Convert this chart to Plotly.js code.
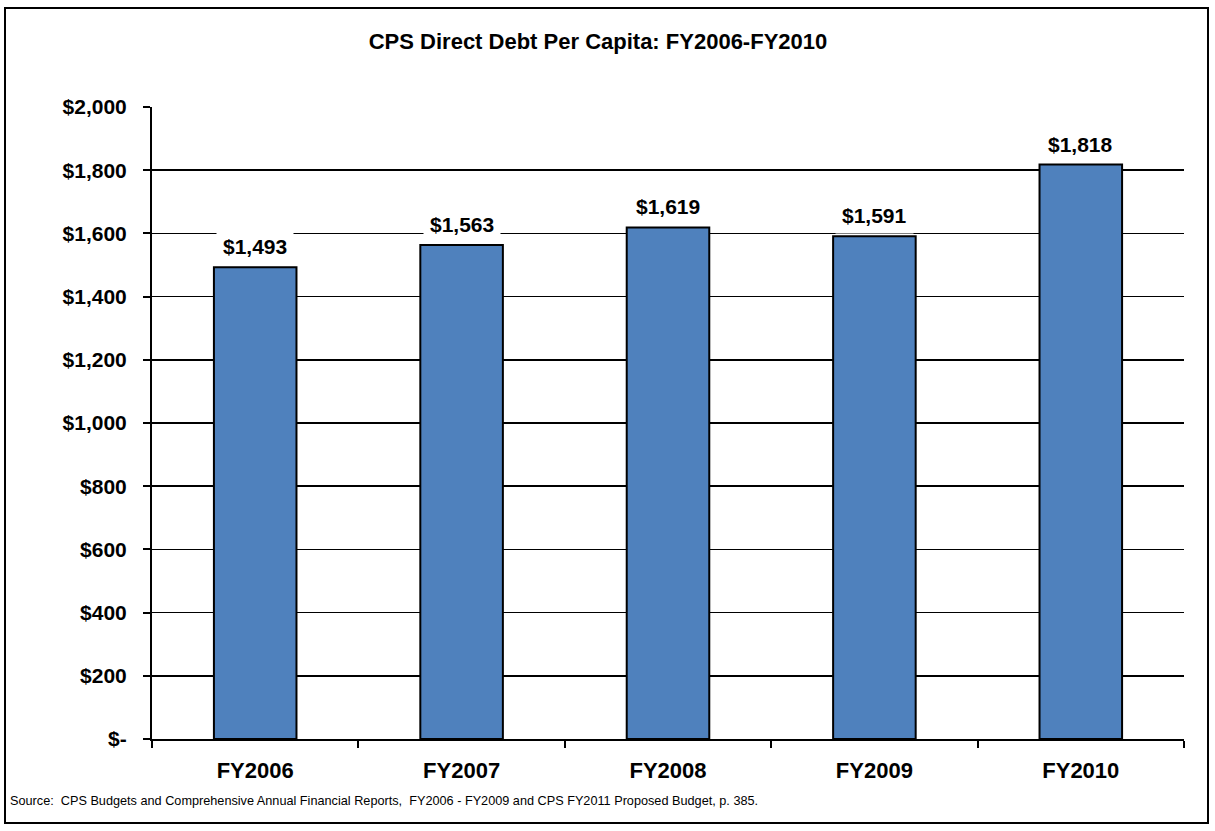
<!DOCTYPE html>
<html>
<head>
<meta charset="utf-8">
<script src="https://cdn.plot.ly/plotly-3.0.1.min.js"></script>
<style>
  html, body { margin: 0; padding: 0; background: #ffffff; }
  #chart { width: 1215px; height: 831px; }
</style>
</head>
<body>
<div id="chart"></div>
<script>
const categories = ["FY2006", "FY2007", "FY2008", "FY2009", "FY2010"];
const values = [1493, 1563, 1619, 1591, 1818];
const valueLabels = ["$1,493", "$1,563", "$1,619", "$1,591", "$1,818"];
const yTickVals = [0, 200, 400, 600, 800, 1000, 1200, 1400, 1600, 1800, 2000];
const yTickText = ["$-", "$200", "$400", "$600", "$800", "$1,000", "$1,200", "$1,400", "$1,600", "$1,800", "$2,000"];
const titleText = "CPS Direct Debt Per Capita: FY2006-FY2010";
const sourceText = "Source:  CPS Budgets and Comprehensive Annual Financial Reports,  FY2006 - FY2009 and CPS FY2011 Proposed Budget, p. 385.";

const FONT = "Liberation Sans, Arial, sans-serif";

const trace = {
  type: "bar",
  x: categories,
  y: values,
  marker: { color: "#4F81BD", line: { color: "#000000", width: 2 } },
  hoverinfo: "skip"
};

const annotations = categories.map((c, i) => ({
  x: c, y: values[i], xref: "x", yref: "y",
  text: "<b>" + valueLabels[i] + "</b>",
  showarrow: false, yanchor: "bottom", yshift: 2,
  bgcolor: "#ffffff", borderpad: 6,
  font: { family: FONT, size: 21, color: "#000000" }
}));

annotations.push({
  text: sourceText, xref: "paper", yref: "paper",
  x: (8 - 152) / 1032, y: (739 - 801) / 632,
  xanchor: "left", yanchor: "middle", showarrow: false,
  font: { family: FONT, size: 12.7, color: "#000000" }
});

const layout = {
  width: 1215, height: 831,
  margin: { l: 152, r: 31, t: 107, b: 92 },
  paper_bgcolor: "#ffffff", plot_bgcolor: "#ffffff",
  showlegend: false,
  bargap: 0.6,
  title: {
    text: "<b>" + titleText + "</b>",
    xref: "container", yref: "container",
    x: 598 / 1215, xanchor: "center",
    y: 1 - 41 / 831, yanchor: "middle",
    font: { family: FONT, size: 22, color: "#000000" }
  },
  xaxis: {
    type: "category",
    showline: true, linecolor: "#000000", linewidth: 2,
    ticks: "outside", tickson: "boundaries", ticklen: 7, tickwidth: 2, tickcolor: "#000000",
    showgrid: false, zeroline: false,
    tickfont: { family: FONT, size: 22, color: "#000000", weight: "bold" },
    ticklabelstandoff: 11
  },
  yaxis: {
    range: [0, 2000],
    tickvals: yTickVals, ticktext: yTickText,
    showline: true, linecolor: "#000000", linewidth: 2,
    ticks: "outside", ticklen: 7, tickwidth: 2, tickcolor: "#000000",
    showgrid: true, gridcolor: "#000000", gridwidth: 1.7,
    zeroline: false,
    tickfont: { family: FONT, size: 21, color: "#000000", weight: "bold" },
    ticklabelstandoff: 12
  },
  shapes: [{
    type: "rect", xref: "paper", yref: "paper",
    x0: (5 - 152) / 1032, x1: (1208 - 152) / 1032,
    y0: (739 - 823) / 632, y1: (739 - 8) / 632,
    line: { color: "#000000", width: 2 }, fillcolor: "rgba(0,0,0,0)"
  }],
  annotations: annotations
};

Plotly.newPlot("chart", [trace], layout, { displayModeBar: false, staticPlot: true });
</script>
</body>
</html>
